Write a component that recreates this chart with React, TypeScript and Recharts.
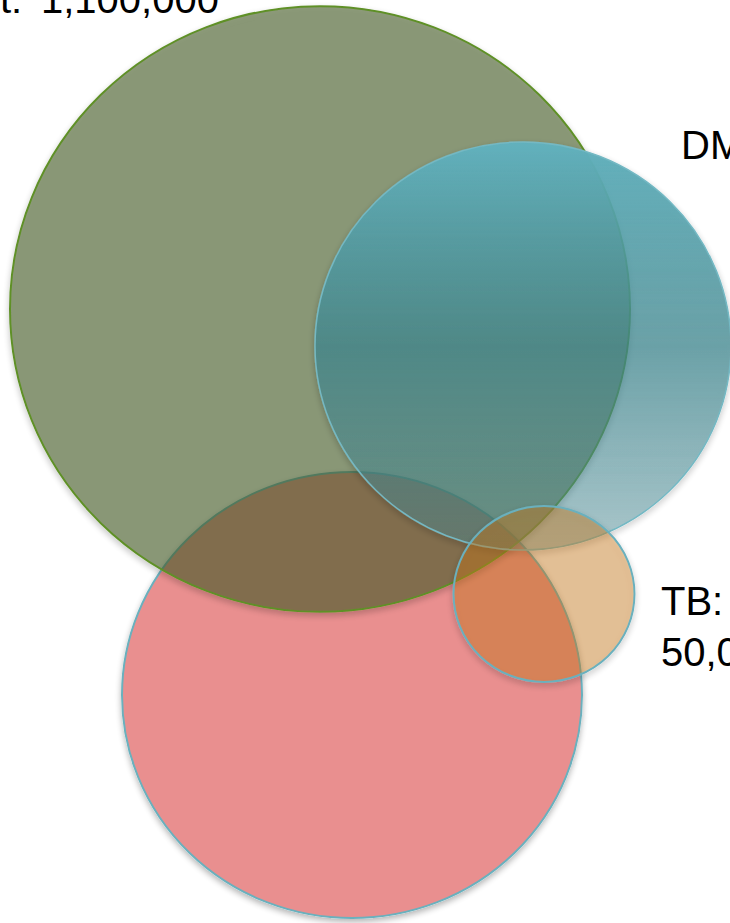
import { Scatter, ScatterChart, XAxis, YAxis, ZAxis } from "recharts";

// sets drawn back to front
const SETS = ["pink", "green", "teal", "tb"];
const CENTER_X = [352, 320, 523, 544];
const CENTER_Y = [695, 309, 346, 594];
const RADIUS = [230, 310, 208, 90.5];
// vertical radius / horizontal radius (the shapes are slightly squashed)
const ASPECT = [0.97, 0.977, 0.981, 0.972];

const LABELS = ["t:", "1,100,000", "DM", "TB:", "50,0"];

const W = 730;
const H = 923;

const data = SETS.map((name, i) => ({
  name,
  x: CENTER_X[i],
  y: CENTER_Y[i],
  area: Math.PI * RADIUS[i] * RADIUS[i],
  aspect: ASPECT[i],
}));
const maxArea = Math.max(...data.map((d) => d.area));

const STYLE: Record<string, { fill: string; fillOpacity: number; stroke: string; strokeWidth: number }> = {
  pink: { fill: "#e98f8f", fillOpacity: 1, stroke: "#6ab0bd", strokeWidth: 2 },
  green: { fill: "rgb(68,90,37)", fillOpacity: 0.6, stroke: "#5f9028", strokeWidth: 2 },
  teal: { fill: "url(#tealFade)", fillOpacity: 1, stroke: "#74b8c3", strokeWidth: 1.5 },
  tb: { fill: "rgb(200,119,24)", fillOpacity: 0.42, stroke: "#6ab0bd", strokeWidth: 2 },
};

function Blob(props: any) {
  const { cx, cy, width, size, payload } = props;
  const rx = width != null ? width / 2 : Math.sqrt(Math.max(size, 0) / Math.PI);
  const ry = rx * payload.aspect;
  const s = STYLE[payload.name];
  return (
    <ellipse
      cx={cx}
      cy={cy}
      rx={rx}
      ry={ry}
      fill={s.fill}
      fillOpacity={s.fillOpacity}
      stroke={s.stroke}
      strokeWidth={s.strokeWidth}
      filter="url(#outerShadow)"
    />
  );
}

const labelStyle = { fontFamily: "'Liberation Sans', Arial, sans-serif", fontSize: 40, fill: "#000" };

export default function App() {
  return (
    <div style={{ position: "absolute", left: 0, top: 0, width: W, height: H, overflow: "hidden", background: "#fff" }}>
      <ScatterChart width={W} height={H} margin={{ top: 0, right: 0, bottom: 0, left: 0 }}>
        <defs>
          <linearGradient id="tealFade" x1="0" y1="0" x2="0" y2="1">
            <stop offset="0" stopColor="#62b1bd" stopOpacity={1} />
            <stop offset="0.5" stopColor="#3e858d" stopOpacity={0.75} />
            <stop offset="1" stopColor="#4a8a94" stopOpacity={0.42} />
          </linearGradient>
          <filter id="outerShadow" x="-10%" y="-10%" width="120%" height="125%">
            <feGaussianBlur in="SourceAlpha" stdDeviation="3" result="blur" />
            <feOffset in="blur" dx="0" dy="3" result="off" />
            <feComposite in="off" in2="SourceAlpha" operator="out" result="outside" />
            <feComponentTransfer in="outside" result="soft">
              <feFuncA type="linear" slope="0.3" />
            </feComponentTransfer>
            <feMerge>
              <feMergeNode in="soft" />
              <feMergeNode in="SourceGraphic" />
            </feMerge>
          </filter>
        </defs>
        <XAxis type="number" dataKey="x" domain={[0, W]} hide allowDataOverflow />
        <YAxis type="number" dataKey="y" domain={[0, H]} reversed hide allowDataOverflow />
        <ZAxis type="number" dataKey="area" domain={[0, maxArea]} range={[0, maxArea]} />
        <Scatter data={data} shape={<Blob />} isAnimationActive={false} />
        <text x={0} y={13} style={labelStyle}>{LABELS[0]}</text>
        <text x={41} y={13} style={labelStyle}>{LABELS[1]}</text>
        <text x={681} y={159} style={labelStyle}>{LABELS[2]}</text>
        <text x={661} y={615} style={labelStyle}>{LABELS[3]}</text>
        <text x={661} y={666} style={labelStyle}>{LABELS[4]}</text>
      </ScatterChart>
    </div>
  );
}
